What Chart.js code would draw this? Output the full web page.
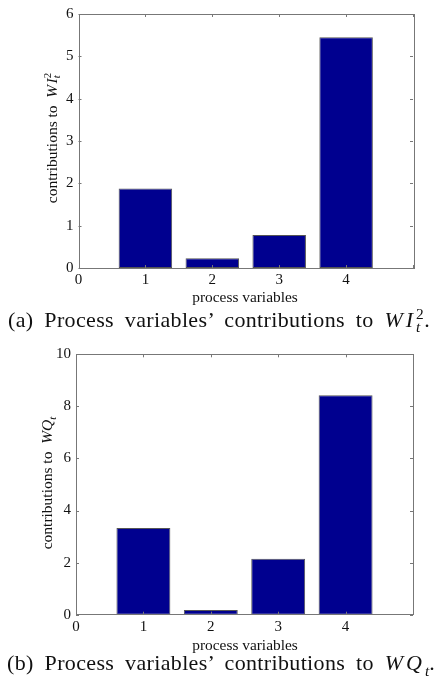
<!DOCTYPE html>
<html><head><meta charset="utf-8">
<script src="https://cdn.jsdelivr.net/npm/chart.js@4/dist/chart.umd.min.js"></script>
<style>
html,body{margin:0;padding:0;background:#fff;}
body{width:443px;height:684px;position:relative;overflow:hidden;font-family:"Liberation Serif","DejaVu Serif",serif;color:#111;}
canvas{position:absolute;left:0;}
.ytitle{position:absolute;white-space:nowrap;font-size:15.5px;transform:translate(-50%,-50%) rotate(-90deg);}
.xtitle{position:absolute;white-space:nowrap;font-size:15.4px;transform:translate(-50%,-50%);}
.cap{position:absolute;white-space:nowrap;font-size:22px;transform:translateY(-50%);word-spacing:5px;letter-spacing:0.35px;}
.ss{display:inline-block;vertical-align:-0.3em;line-height:0.8;font-size:70%;text-align:left;}
.ss span{display:block;}
i{font-style:italic;}
</style>
</head><body>
<canvas id="c1" width="443" height="300" style="top:0"></canvas>
<canvas id="c2" width="443" height="300" style="top:340px"></canvas>
<div class="ytitle" style="left:52px;top:138px">contributions to&nbsp; <i>W&#8202;I</i><span class="ss" style="vertical-align:-0.25em"><span>2</span><span><i>t</i></span></span></div>
<div class="xtitle" style="left:245px;top:297px">process variables</div>
<div class="cap" style="left:8px;top:320px">(a) Process variables’ contributions to <i style="letter-spacing:3px">WI</i><span class="ss"><span>2</span><span><i>t</i></span></span>.</div>
<div class="ytitle" style="left:48px;top:483px">contributions to&nbsp; <i>WQ</i><sub style="font-size:70%"><i>t</i></sub></div>
<div class="xtitle" style="left:245px;top:645px">process variables</div>
<div class="cap" style="left:7px;top:665px">(b) Process variables’ contributions to <i style="letter-spacing:3px">WQ</i><sub style="font-size:70%;letter-spacing:0"><i>t</i></sub>.</div>
<script>
// data
const variables = [1, 2, 3, 4];
const contribWI2 = [1.88, 0.23, 0.78, 5.45];
const contribWQ = [3.33, 0.18, 2.15, 8.43];
const xTicks = [0, 1, 2, 3, 4];
const yTicksA = [0, 1, 2, 3, 4, 5, 6];
const yTicksB = [0, 2, 4, 6, 8, 10];

const frame = {
  id: 'frame',
  afterDatasetsDraw(chart) {
    const {ctx, chartArea: a, scales} = chart;
    ctx.save();
    ctx.strokeStyle = '#777';
    ctx.lineWidth = 1;
    ctx.strokeRect(Math.round(a.left)+0.5, Math.round(a.top)+0.5, Math.round(a.right-a.left), Math.round(a.bottom-a.top));
    const L = 3;
    ctx.beginPath();
    scales.x.ticks.forEach(t => {
      const px = Math.round(scales.x.getPixelForValue(t.value)) + 0.5;
      ctx.moveTo(px, a.bottom); ctx.lineTo(px, a.bottom - L);
      ctx.moveTo(px, a.top); ctx.lineTo(px, a.top + L);
    });
    scales.y.ticks.forEach(t => {
      const py = Math.round(scales.y.getPixelForValue(t.value)) + 0.5;
      ctx.moveTo(a.left, py); ctx.lineTo(a.left + L, py);
      ctx.moveTo(a.right, py); ctx.lineTo(a.right - L, py);
    });
    ctx.stroke();
    ctx.restore();
  }
};

function makeChart(id, values, yMax, yStep, pad, yWidth, xHeight) {
  return new Chart(document.getElementById(id), {
    type: 'bar',
    data: {
      datasets: [{
        data: variables.map((v, i) => ({x: v, y: values[i]})),
        backgroundColor: '#00008F',
        borderColor: '#555',
        borderWidth: 1,
        borderSkipped: false,
        barPercentage: 0.8,
        categoryPercentage: 1
      }]
    },
    options: {
      responsive: false,
      animation: false,
      events: [],
      layout: {padding: pad},
      plugins: {legend: {display: false}, tooltip: {enabled: false}},
      scales: {
        x: {
          type: 'linear', min: 0, max: 5, offset: false,
          grid: {display: false, drawTicks: false},
          border: {display: false},
          ticks: {stepSize: 1, padding: 3, color: '#111', maxRotation: 0,
            font: {family: 'Liberation Serif', size: 15},
            callback: v => xTicks.includes(v) ? String(v) : ''},
          afterFit: s => { s.height = xHeight; }
        },
        y: {
          min: 0, max: yMax,
          grid: {display: false, drawTicks: false},
          border: {display: false},
          ticks: {stepSize: yStep, padding: 5, color: '#111',
            font: {family: 'Liberation Serif', size: 15}},
          afterFit: s => { s.width = yWidth; }
        }
      }
    },
    plugins: [frame]
  });
}
makeChart('c1', contribWI2, yTicksA[yTicksA.length-1], 1, {top: 9.5, right: 30, left: 0, bottom: 0}, 78.5, 32);
makeChart('c2', contribWQ, yTicksB[yTicksB.length-1], 2, {top: 14.3, right: 30, left: 0, bottom: 0}, 76, 25.3);
</script>
</body></html>
